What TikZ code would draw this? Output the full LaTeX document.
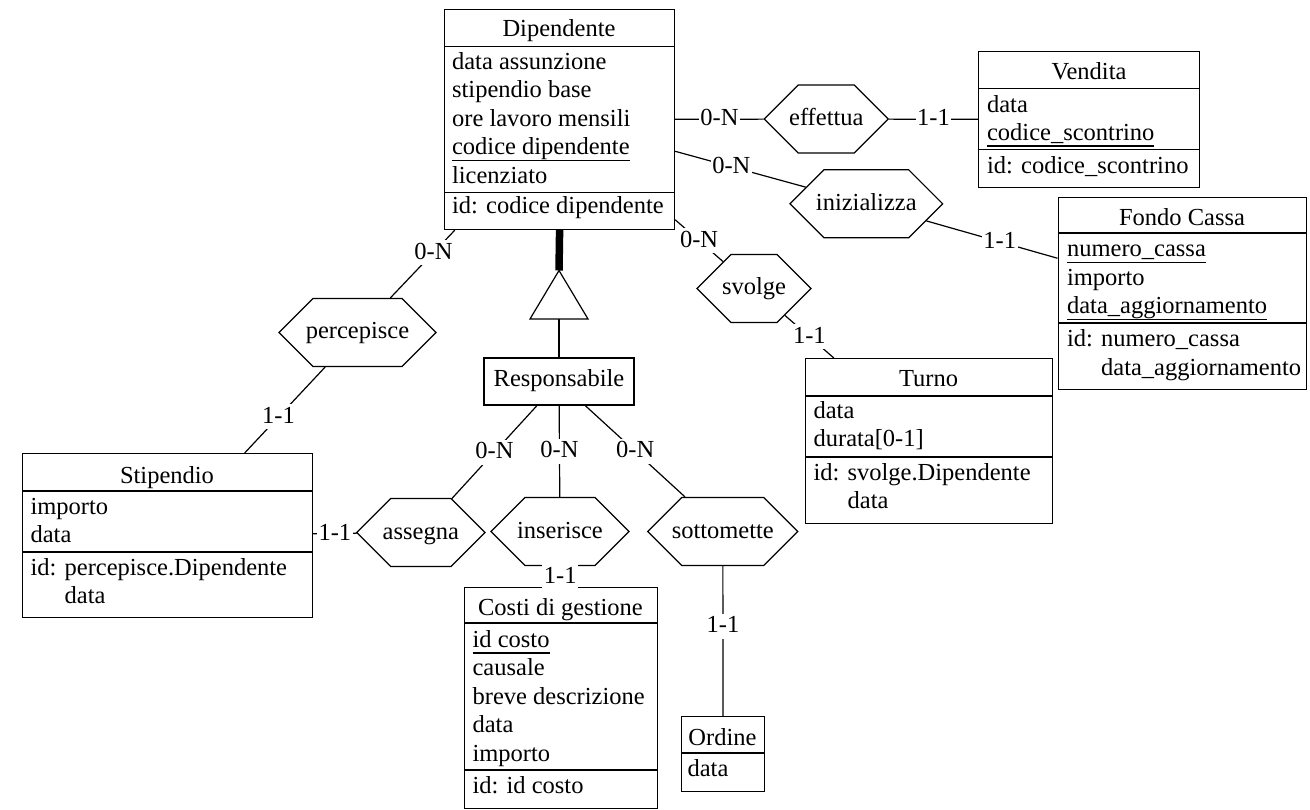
\documentclass[tikz,border=0pt]{standalone}
\usepackage{fontspec}
\setmainfont{Liberation Serif}
\usetikzlibrary{shapes.misc}
\newlength\ulwd
\newcommand\ulx[1]{\settowidth{\ulwd}{#1}\rlap{\rule[-6.5pt]{\ulwd}{1.8pt}}#1}
\begin{document}
\begin{tikzpicture}[x=1pt,y=-1pt,
  font=\fontsize{24.5}{28.5}\selectfont,
  line width=1.2pt,
  ent/.style={draw, rectangle, anchor=north west, inner sep=0pt},
  rel/.style={draw, chamfered rectangle, chamfered rectangle xsep=24pt,
    chamfered rectangle ysep=23.5pt, minimum height=47pt, inner sep=0pt,
    text height=17pt, text depth=4pt},
  ttl/.style={anchor=base, inner sep=0pt},
  att/.style={anchor=base west, inner sep=0pt},
  lbl/.style={fill=white, inner xsep=1.5pt, inner ysep=2pt, text height=17pt, text depth=4pt}]
\useasboundingbox (0,0) rectangle (1310,810);

% ---------- Dipendente
\node[ent, minimum width=230pt, minimum height=220pt] (dip) at (444,9) {};
\draw (dip.west |- 0,46.5) -- (dip.east |- 0,46.5);
\draw (dip.west |- 0,192.5) -- (dip.east |- 0,192.5);
\node[ttl] (dipT) at (559,37) {Dipendente};
\node[att] (dip1) at (451.5,69.5) {data assunzione};
\node[att] (dip2) at (451.5,98) {stipendio base};
\node[att] (dip3) at (451.5,126.5) {ore lavoro mensili};
\node[att] (dip4) at (451.5,155) {\ulx{codice dipendente}};
\node[att] (dip5) at (451.5,183.5) {licenziato};
\node[att] (dip6) at (451.5,213.5) {id: codice dipendente};

% ---------- Vendita
\node[ent, minimum width=221pt, minimum height=136pt] (vend) at (978,51) {};
\draw (vend.west |- 0,88.5) -- (vend.east |- 0,88.5);
\draw (vend.west |- 0,149.5) -- (vend.east |- 0,149.5);
\node[ttl] (vendT) at (1089,79.5) {Vendita};
\node[att] (vend1) at (986.5,112.5) {data};
\node[att] (vend2) at (986.5,140.5) {\ulx{codice\_scontrino}};
\node[att] (vend3) at (986.5,173.5) {id: codice\_scontrino};

% ---------- Fondo Cassa
\node[ent, minimum width=248pt, minimum height=192pt] (fondo) at (1057.5,197) {};
\draw (fondo.west |- 0,233) -- (fondo.east |- 0,233);
\draw (fondo.west |- 0,323) -- (fondo.east |- 0,323);
\node[ttl] (fondoT) at (1182,225.5) {Fondo Cassa};
\node[att] (fondo1) at (1066.5,257) {\ulx{numero\_cassa}};
\node[att] (fondo2) at (1066.5,285.5) {importo};
\node[att] (fondo3) at (1066.5,314) {\ulx{data\_aggiornamento}};
\node[att] (fondo4) at (1066.5,347) {id: numero\_cassa};
\node[att] (fondo5) at (1066.5,375.5) {\phantom{id: }data\_aggiornamento};

% ---------- Turno
\node[ent, minimum width=247pt, minimum height=165pt] (turno) at (805,358) {};
\draw (turno.west |- 0,396) -- (turno.east |- 0,396);
\draw (turno.west |- 0,457) -- (turno.east |- 0,457);
\node[ttl] (turnoT) at (928.5,386.5) {Turno};
\node[att] (turno1) at (813,418) {data};
\node[att] (turno2) at (813,446.5) {durata[0-1]};
\node[att] (turno3) at (813,480) {id: svolge.Dipendente};
\node[att] (turno4) at (813,508.5) {\phantom{id: }data};

% ---------- Stipendio
\node[ent, minimum width=290pt, minimum height=164pt] (stip) at (22,453) {};
\draw (stip.west |- 0,491) -- (stip.east |- 0,491);
\draw (stip.west |- 0,552) -- (stip.east |- 0,552);
\node[ttl] (stipT) at (167,483) {Stipendio};
\node[att] (stip1) at (30,514) {importo};
\node[att] (stip2) at (30,542.5) {data};
\node[att] (stip3) at (30,575) {id: percepisce.Dipendente};
\node[att] (stip4) at (30,603.5) {\phantom{id: }data};

% ---------- Costi di gestione
\node[ent, minimum width=193pt, minimum height=221pt] (costi) at (464,587) {};
\draw (costi.west |- 0,623) -- (costi.east |- 0,623);
\draw (costi.west |- 0,770) -- (costi.east |- 0,770);
\node[ttl] (costiT) at (560.5,615) {Costi di gestione};
\node[att] (costi1) at (472,647) {\ulx{id costo}};
\node[att] (costi2) at (472,675.5) {causale};
\node[att] (costi3) at (472,704) {breve descrizione};
\node[att] (costi4) at (472,732.5) {data};
\node[att] (costi5) at (472,761) {importo};
\node[att] (costi6) at (472,793) {id: id costo};

% ---------- Ordine
\node[ent, minimum width=83pt, minimum height=75pt] (ordine) at (681,716) {};
\draw (ordine.west |- 0,753) -- (ordine.east |- 0,753);
\node[ttl] (ordineT) at (722.5,745) {Ordine};
\node[att] (ordine1) at (687,776) {data};

% ---------- Responsabile
\node[draw, minimum width=150pt, minimum height=47pt, inner sep=0pt,
  text height=16pt, text depth=5pt] (resp) at (559,381.5) {Responsabile};

% ---------- relationships
\node[rel, minimum width=124pt] (eff) at (826.3,119) {effettua};
\node[rel, minimum width=152.7pt] (ini) at (866.3,203.8) {inizializza};
\node[rel, minimum width=114pt] (svo) at (754,288.5) {svolge};
\node[rel, minimum width=157pt] (perc) at (357.5,332.5) {percepisce};
\node[rel, minimum width=128.3pt] (ass) at (420.8,532.5) {assegna};
\node[rel, minimum width=138pt] (ins) at (560,531.5) {inserisce};
\node[rel, minimum width=150pt] (sott) at (722.8,531.5) {sottomette};

% ---------- generalisation
\coordinate (isaTop) at (559,270.5);
\coordinate (isaBase) at (559,319);
\draw[line width=7.5pt] (dip.south) -- (isaTop);
\draw (isaTop) -- ([xshift=-29pt]isaBase) -- ([xshift=29pt]isaBase) -- cycle;
\draw (isaBase) -- (resp.north);

% ---------- connectors
\draw (dip) -- node[lbl] (l1) {0-N} (eff);
\draw (eff) -- node[lbl] (l2) {1-1} (vend);
\draw (dip) -- node[lbl, pos=0.43] (l3) {0-N} (ini);
\draw (ini) -- node[lbl, pos=0.56] (l4) {1-1} (fondo);
\draw (dip) -- node[lbl] (l5) {0-N} (svo);
\draw (svo) -- node[lbl] (l6) {1-1} (turno);
\draw (dip) -- node[lbl, pos=0.33] (l7) {0-N} (perc);
\draw (perc) -- node[lbl, pos=0.58] (l8) {1-1} (stip);
\draw (resp) -- node[lbl] (l9) {0-N} (ass);
\draw (resp) -- node[lbl] (l10) {0-N} (ins);
\draw (resp) -- node[lbl] (l11) {0-N} (sott);
\draw (ass) -- node[lbl] (l12) {1-1} (stip);
\draw (ins) -- node[lbl] (l13) {1-1} (costi);
\draw (sott) -- node[lbl, pos=0.4] (l14) {1-1} (ordine);
\end{tikzpicture}
\end{document}
